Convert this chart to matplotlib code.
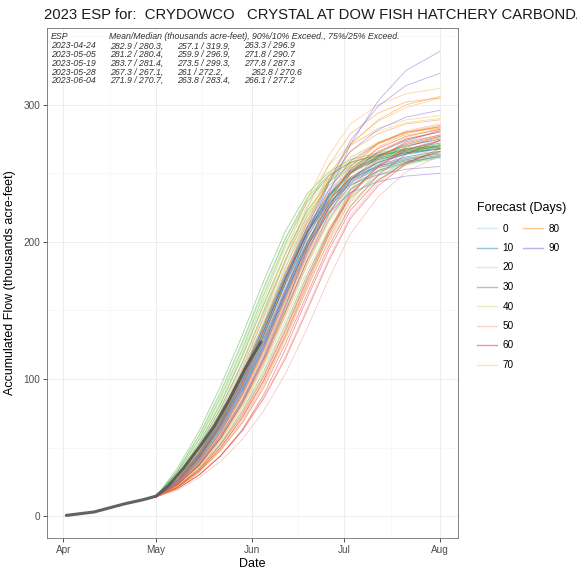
import numpy as np
import matplotlib
matplotlib.use("Agg")
import matplotlib.pyplot as plt
import matplotlib.dates as mdates
from matplotlib.ticker import MultipleLocator
from matplotlib.lines import Line2D

plt.rcParams['font.family'] = ['Liberation Sans', 'DejaVu Sans']

# observed accumulated flow (thousands acre-feet)
obs_dates = np.array(['2023-04-02', '2023-04-11', '2023-04-16', '2023-04-21', '2023-04-27',
                      '2023-05-01', '2023-05-05', '2023-05-10', '2023-05-15', '2023-05-20',
                      '2023-05-25', '2023-05-30', '2023-06-04'], dtype='datetime64[D]')
obs_flow = [0.5, 3, 6, 9, 12, 14.5, 22, 35, 50, 66, 86, 108, 127]

trace_dates = np.array(['2023-05-01', '2023-05-08', '2023-05-15', '2023-05-22', '2023-05-29',
                        '2023-06-05', '2023-06-12', '2023-06-19', '2023-06-26', '2023-07-03',
                        '2023-07-12', '2023-07-21', '2023-08-01'], dtype='datetime64[D]')

fc_0 = [[14, 28, 49, 76, 108, 145, 182, 214, 237, 252, 261, 266, 269],
        [14, 24, 40, 61, 88, 119, 155, 190, 219, 239, 251, 257, 261],
        [14, 26, 45, 70, 101, 136, 173, 207, 233, 251, 262, 268, 273],
        [14, 29, 51, 79, 112, 149, 185, 216, 238, 252, 260, 264, 266],
        [14, 25, 42, 65, 94, 127, 163, 198, 226, 245, 257, 264, 268],
        [14, 23, 38, 59, 85, 116, 151, 187, 217, 238, 251, 258, 262],
        [14, 27, 47, 73, 104, 140, 177, 210, 235, 252, 263, 270, 275]]
fc_10 = [[14, 26, 44, 69, 99, 133, 170, 204, 230, 247, 258, 264, 268],
         [14, 27, 46, 72, 103, 139, 176, 209, 234, 251, 262, 268, 272],
         [14, 25, 42, 65, 93, 126, 162, 197, 225, 244, 255, 261, 264],
         [14, 26, 45, 70, 101, 136, 173, 207, 233, 251, 263, 270, 275],
         [14, 25, 43, 67, 96, 130, 166, 200, 227, 245, 256, 262, 266],
         [14, 27, 47, 73, 105, 141, 178, 211, 235, 251, 260, 265, 268],
         [14, 24, 41, 63, 91, 123, 159, 194, 222, 241, 252, 258, 262],
         [14, 26, 44, 68, 98, 132, 169, 203, 231, 250, 263, 271, 277],
         [14, 25, 43, 66, 95, 128, 164, 199, 227, 246, 258, 265, 270],
         [14, 27, 46, 71, 102, 137, 174, 207, 231, 246, 255, 260, 263],
         [14, 26, 45, 69, 100, 135, 172, 206, 233, 252, 265, 274, 281],
         [14, 25, 42, 64, 92, 125, 161, 196, 224, 243, 254, 259, 262]]
fc_20 = [[14, 33, 58, 89, 125, 165, 202, 230, 248, 258, 264, 268, 270],
         [14, 22, 36, 55, 79, 109, 143, 179, 210, 233, 249, 258, 263],
         [14, 30, 53, 82, 116, 154, 191, 222, 243, 255, 262, 266, 268],
         [14, 24, 40, 62, 89, 121, 157, 192, 221, 241, 254, 261, 265],
         [14, 31, 55, 85, 120, 159, 196, 226, 246, 257, 264, 268, 271],
         [14, 27, 47, 73, 104, 140, 177, 210, 235, 251, 261, 266, 269],
         [14, 21, 34, 52, 75, 103, 136, 172, 204, 229, 246, 256, 262]]
fc_30 = [[14, 35, 62, 95, 132, 172, 208, 235, 251, 260, 265, 268, 270],
         [14, 29, 51, 79, 112, 150, 187, 219, 241, 254, 261, 265, 268],
         [14, 23, 38, 58, 84, 115, 150, 186, 216, 238, 252, 260, 265],
         [14, 32, 56, 87, 122, 162, 199, 229, 248, 258, 264, 267, 269],
         [14, 21, 35, 53, 77, 106, 140, 176, 208, 232, 248, 257, 263],
         [14, 30, 53, 82, 117, 155, 192, 223, 244, 256, 263, 267, 270],
         [14, 26, 45, 70, 101, 136, 173, 207, 233, 250, 261, 267, 271],
         [14, 33, 59, 91, 127, 167, 203, 232, 249, 258, 263, 266, 268],
         [14, 25, 43, 66, 95, 129, 166, 200, 228, 247, 259, 266, 270]]
fc_40 = [[14, 27, 47, 73, 105, 142, 181, 216, 243, 261, 273, 280, 285],
         [14, 23, 37, 57, 82, 113, 148, 184, 214, 236, 251, 260, 266],
         [14, 30, 53, 83, 118, 158, 198, 232, 256, 271, 281, 287, 290],
         [14, 21, 33, 50, 72, 99, 131, 167, 200, 226, 245, 256, 263],
         [14, 28, 50, 77, 110, 148, 187, 221, 246, 262, 272, 278, 282],
         [14, 25, 42, 65, 94, 128, 166, 202, 231, 251, 264, 271, 276]]
fc_50 = [[14, 21, 33, 49, 70, 97, 130, 166, 201, 230, 252, 266, 276],
         [14, 23, 37, 56, 81, 111, 146, 183, 216, 242, 261, 273, 281],
         [14, 20, 30, 44, 63, 87, 117, 152, 188, 219, 243, 259, 270],
         [14, 25, 42, 65, 94, 128, 166, 203, 234, 257, 272, 281, 286],
         [14, 22, 35, 53, 76, 104, 138, 175, 209, 236, 255, 267, 274],
         [14, 19, 28, 40, 56, 77, 104, 137, 173, 206, 233, 251, 263],
         [14, 24, 39, 60, 87, 119, 156, 193, 225, 249, 265, 275, 281]]
fc_60 = [[14, 21, 32, 48, 68, 94, 126, 162, 197, 226, 249, 264, 274],
         [14, 24, 40, 61, 89, 122, 160, 198, 230, 253, 268, 277, 282],
         [14, 20, 30, 44, 62, 86, 115, 150, 186, 217, 241, 257, 268],
         [14, 23, 37, 57, 82, 113, 149, 187, 220, 245, 262, 272, 278],
         [14, 26, 43, 67, 97, 132, 171, 208, 238, 259, 272, 280, 284],
         [14, 22, 34, 52, 74, 102, 136, 173, 207, 235, 255, 267, 274],
         [14, 20, 30, 44, 63, 89, 122, 159, 194, 223, 245, 258, 266],
         [14, 23, 38, 59, 85, 117, 154, 192, 225, 250, 266, 275, 280],
         [14, 21, 33, 50, 72, 99, 132, 169, 205, 234, 256, 269, 277]]
fc_70 = [[14, 26, 44, 69, 100, 137, 177, 215, 248, 272, 288, 298, 305],
         [14, 22, 36, 55, 80, 111, 147, 185, 219, 246, 265, 276, 283],
         [14, 28, 49, 77, 111, 151, 192, 231, 263, 286, 300, 308, 312],
         [14, 24, 39, 61, 88, 121, 159, 197, 230, 255, 271, 280, 285],
         [14, 20, 32, 48, 69, 96, 129, 166, 202, 233, 256, 270, 277],
         [14, 27, 46, 72, 104, 142, 181, 218, 249, 270, 283, 289, 292]]
fc_80 = [[14, 25, 42, 66, 96, 132, 172, 211, 245, 271, 289, 300, 306],
         [14, 23, 37, 57, 83, 115, 152, 190, 224, 251, 269, 279, 284],
         [14, 27, 47, 74, 107, 146, 187, 225, 256, 279, 294, 302, 305],
         [14, 21, 33, 50, 72, 100, 134, 171, 207, 238, 261, 273, 278],
         [14, 26, 45, 70, 101, 138, 177, 214, 245, 266, 279, 286, 289],
         [14, 24, 39, 61, 88, 121, 158, 196, 229, 255, 272, 280, 283]]
fc_90 = [[14, 23, 37, 57, 83, 115, 153, 195, 235, 271, 303, 325, 339],
         [14, 24, 40, 62, 90, 124, 164, 205, 243, 274, 299, 314, 323],
         [14, 26, 44, 68, 99, 135, 174, 211, 243, 266, 282, 291, 296],
         [14, 27, 46, 72, 103, 139, 175, 207, 229, 242, 249, 253, 255],
         [14, 25, 42, 65, 94, 128, 164, 197, 221, 236, 244, 248, 250]]

lead_days = [0, 10, 20, 30, 40, 50, 60, 70, 80, 90]
traces = [fc_0, fc_10, fc_20, fc_30, fc_40, fc_50, fc_60, fc_70, fc_80, fc_90]
colors = ['#A6CEE3', '#1F78B4', '#B2DF8A', '#33A02C', '#D8D47A',
          '#FB9A99', '#E31A1C', '#FDBF6F', '#FF7F00', '#6A5ACD']
alphas = [0.6, 0.6, 0.6, 0.45, 0.6, 0.55, 0.45, 0.6, 0.45, 0.45]

# ESP summary table (printed inside the panel)
table_header = ['ESP', 'Mean/Median (thousands acre-feet), 90%/10% Exceed., 75%/25% Exceed.']
table_dates = ['2023-04-24', '2023-05-05', '2023-05-19', '2023-05-28', '2023-06-04']
table_mean = ['282.9 / 280.3,', '281.2 / 280.4,', '283.7 / 281.4,', '267.3 / 267.1,', '271.9 / 270.7,']
table_9010 = ['257.1 / 319.9,', '259.9 / 296.9,', '273.5 / 299.3,', '261 / 272.2,', '263.8 / 283.4,']
table_7525 = ['263.3 / 296.9', '271.8 / 290.7', '277.8 / 287.3', '262.8 / 270.6', '266.1 / 277.2']

W, H = 577, 569
fig = plt.figure(figsize=(W / 100, H / 100), dpi=100)
ax = fig.add_axes([47 / W, 1 - 538 / H, (458 - 47) / W, (538 - 28) / H])

for grp, col, a in zip(traces, colors, alphas):
    for tr in grp:
        ax.plot(trace_dates, tr, color=col, lw=0.6, alpha=a, zorder=2)

ax.plot(obs_dates, obs_flow, color='#5A5A5A', lw=2.2, alpha=0.95, zorder=3,
        solid_capstyle='round')

ax.set_xlim(np.datetime64('2023-03-26T18'), np.datetime64('2023-08-06T20'))
ax.set_ylim(-16, 356)
ax.xaxis.set_major_locator(mdates.MonthLocator())
ax.xaxis.set_minor_locator(mdates.MonthLocator(bymonthday=16))
ax.xaxis.set_major_formatter(mdates.DateFormatter('%b'))
ax.yaxis.set_major_locator(MultipleLocator(100))
ax.yaxis.set_minor_locator(MultipleLocator(50))

ax.grid(which='major', color='#EBEBEB', lw=0.6, zorder=0)
ax.grid(which='minor', color='#F3F3F3', lw=0.4, zorder=0)
ax.set_axisbelow(True)
for sp in ax.spines.values():
    sp.set_color('#6E6E6E')
    sp.set_linewidth(0.6)
ax.tick_params(which='major', length=3, width=0.6, color='#333333',
               labelsize=7.2, labelcolor='#4D4D4D', pad=2)
ax.tick_params(which='minor', length=0)

ax.set_xlabel('Date', fontsize=9, labelpad=2)
ax.set_ylabel('Accumulated Flow (thousands acre-feet)', fontsize=9, labelpad=5)

fig.text(44 / W, 1 - 15 / H,
         '2023 ESP for:  CRYDOWCO   CRYSTAL AT DOW FISH HATCHERY CARBONDALE',
         fontsize=10.7, va='center', ha='left', color='#1A1A1A')

tkw = dict(fontsize=6.3, style='italic', color='#333333', va='center', zorder=6)
fig.text(51 / W, 1 - 36.5 / H, table_header[0], **tkw)
fig.text(109 / W, 1 - 36.5 / H, table_header[1], **tkw)
for i in range(len(table_dates)):
    y = 1 - (46 + i * 8.7) / H
    fig.text(51 / W, y, table_dates[i], **tkw)
    fig.text(110 / W, y, table_mean[i], **tkw)
    fig.text(177 / W, y, table_9010[i], **tkw)
    fig.text((251 if i == 3 else 244) / W, y, table_7525[i], **tkw)

# legend laid out like ggplot: 8 rows in the first column, 2 in the second
handles = [Line2D([], [], color=c, lw=1.0, alpha=0.45) for c in colors]
labels = [str(d) for d in lead_days]
blank = [Line2D([], [], alpha=0) for _ in range(6)]
fig.legend(handles + blank, labels + [''] * 6, ncol=2, title='Forecast (Days)',
           loc='upper left', bbox_to_anchor=(468 / W, 1 - 193 / H),
           frameon=False, fontsize=7.2, title_fontsize=9,
           handlelength=2.0, handletextpad=0.55, columnspacing=0.9,
           labelspacing=0.95, alignment='left')

fig.savefig('out.png', dpi=100)
